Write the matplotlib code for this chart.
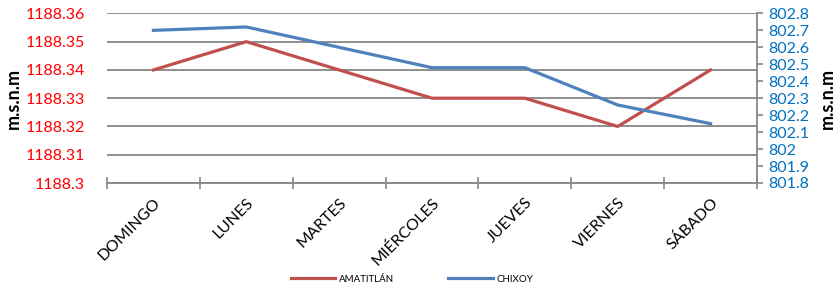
import numpy as np
import matplotlib
matplotlib.use('Agg')
import matplotlib.pyplot as plt
from matplotlib.ticker import FixedLocator, FuncFormatter

plt.rcParams['font.family'] = ['Lato', 'DejaVu Sans']

# data
dias = ['DOMINGO', 'LUNES', 'MARTES', 'MIÉRCOLES', 'JUEVES', 'VIERNES', 'SÁBADO']
amatitlan = [1188.34, 1188.35, 1188.34, 1188.33, 1188.33, 1188.32, 1188.34]
chixoy = [802.70, 802.72, 802.60, 802.48, 802.48, 802.26, 802.15]
ticks_izq = [1188.30, 1188.31, 1188.32, 1188.33, 1188.34, 1188.35, 1188.36]
ticks_der = [801.8, 801.9, 802.0, 802.1, 802.2, 802.3, 802.4, 802.5, 802.6, 802.7, 802.8]

rojo = '#C0504D'
azul = '#4F81BD'
gris = '#868686'

W, H = 836, 290
fig = plt.figure(figsize=(W / 100, H / 100), dpi=100)
ax = fig.add_axes([107 / W, 1 - 183 / H, (757 - 107) / W, (183 - 13.4) / H])

x = np.arange(len(dias))
l1, = ax.plot(x, amatitlan, color=rojo, lw=2.3, solid_joinstyle='miter', label='AMATITLÁN')
ax.set_xlim(-0.5, len(dias) - 0.5)
ax.set_ylim(ticks_izq[0], ticks_izq[-1])
ax.set_yticks(ticks_izq)
ax.yaxis.set_major_formatter(FuncFormatter(lambda v, p: format(round(v, 2), 'g')))
ax.tick_params(axis='y', length=0, pad=16, labelsize=11.5, labelcolor='#FF0000')
ax.grid(axis='y', color=gris, lw=1.3)
ax.set_axisbelow(True)

ax.set_xticks(x)
ax.set_xticklabels(dias, rotation=45, ha='right', va='top', rotation_mode='anchor', fontsize=11.5)
ax.tick_params(axis='x', which='major', length=0, pad=9)
ax.xaxis.set_minor_locator(FixedLocator(np.arange(-0.5, len(dias), 1.0)))
ax.tick_params(axis='x', which='minor', direction='inout', length=9, width=1.2, color=gris)

for s in ['top', 'left', 'right']:
    ax.spines[s].set_visible(False)
ax.spines['bottom'].set_color(gris)
ax.spines['bottom'].set_linewidth(1.3)

ax2 = ax.twinx()
l2, = ax2.plot(x, chixoy, color=azul, lw=2.3, solid_joinstyle='miter', label='CHIXOY')
ax2.set_ylim(ticks_der[0], ticks_der[-1])
ax2.set_yticks(ticks_der)
ax2.yaxis.set_major_formatter(FuncFormatter(lambda v, p: format(round(v, 1), 'g')))
ax2.tick_params(axis='y', direction='out', length=4, width=1.2, color=gris, pad=4,
                labelsize=11.5, labelcolor='#0070C0')
for s in ['top', 'left', 'bottom']:
    ax2.spines[s].set_visible(False)
ax2.spines['right'].set_color(gris)
ax2.spines['right'].set_linewidth(1.3)

ymid = 1 - 98 / H
fig.text(13 / W, ymid, 'm.s.n.m', rotation=90, ha='center', va='center',
         fontsize=13, fontweight='bold')
fig.text(827 / W, ymid, 'm.s.n.m', rotation=90, ha='center', va='center',
         fontsize=13, fontweight='bold')

fig.legend(handles=[l1, l2], loc='center', bbox_to_anchor=(412 / W, 1 - 279 / H),
           ncol=2, frameon=False, fontsize=7, handlelength=4.6, handletextpad=0.4,
           columnspacing=5.5)

fig.savefig('out.png', dpi=100)
